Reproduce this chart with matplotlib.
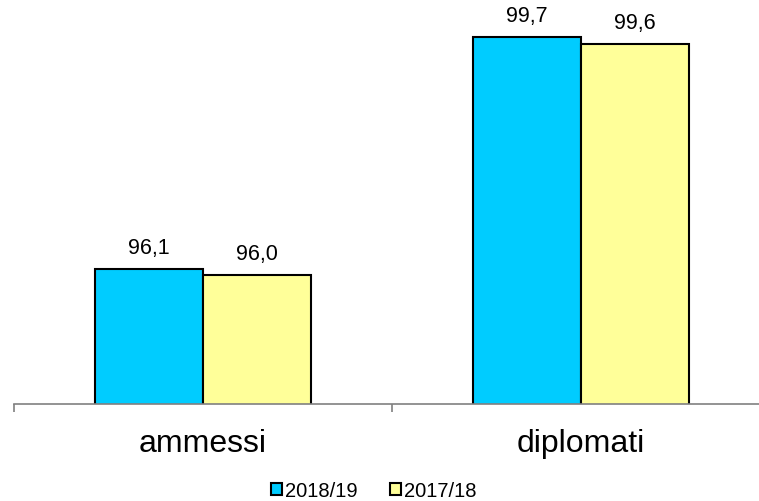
import numpy as np
import matplotlib.pyplot as plt
from matplotlib.patches import Patch

plt.rcParams['font.family'] = ['Liberation Sans', 'DejaVu Sans']

categories = ["ammessi", "diplomati"]
series = ["2018/19", "2017/18"]
val_1819 = [96.1, 99.7]
val_1718 = [96.0, 99.6]
colors = ["#00CCFF", "#FFFF99"]

fig = plt.figure(figsize=(7.59, 5.02), dpi=100)
ax = fig.add_axes([14/759, 1 - 405/502, 756/759, (405 - 19)/502])

x = np.arange(len(categories))
w = 0.286
b1 = ax.bar(x - w/2, val_1819, w, color=colors[0], edgecolor="black", linewidth=1.5)
b2 = ax.bar(x + w/2, val_1718, w, color=colors[1], edgecolor="black", linewidth=1.5)

for bars, vals in [(b1, val_1819), (b2, val_1718)]:
    ax.bar_label(bars, labels=[f"{v:.1f}".replace(".", ",") for v in vals],
                 padding=8, fontsize=15.5)

ax.set_ylim(94, 100)
ax.set_xlim(-0.5, 1.5)
for s in ["top", "right", "left"]:
    ax.spines[s].set_visible(False)
ax.spines["bottom"].set_color("#808080")
ax.spines["bottom"].set_linewidth(1.2)
ax.set_yticks([])
ax.set_xticks(x)
ax.set_xticklabels(categories, fontsize=23)
ax.tick_params(axis="x", which="major", length=0, pad=17)
ax.set_xticks([-0.5, 0.5, 1.5], minor=True)
ax.tick_params(axis="x", which="minor", length=6, width=1.2, color="#808080", direction="out")

handles = [Patch(facecolor=c, edgecolor="black", linewidth=1.5) for c in colors]
fig.legend(handles, series, loc="center", bbox_to_anchor=(374/759, 1 - 492/502),
           ncol=2, frameon=False, fontsize=14.5, handlelength=0.55, handleheight=0.55,
           handletextpad=0.15, columnspacing=1.6, borderpad=0)

fig.savefig("out.png", dpi=100)
